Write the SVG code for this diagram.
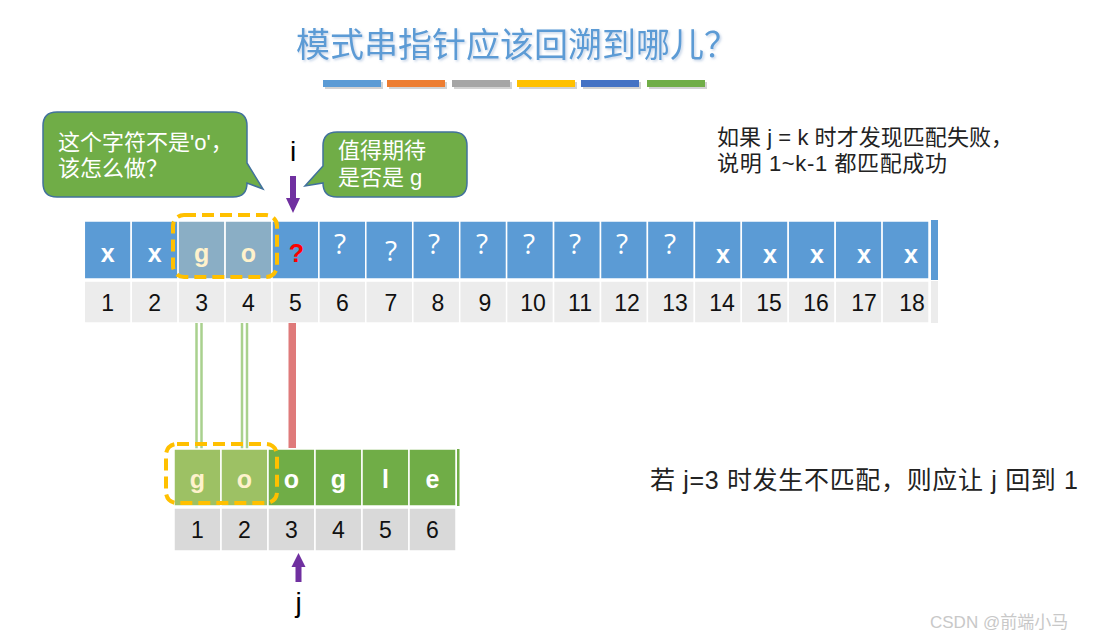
<svg xmlns="http://www.w3.org/2000/svg" width="1094" height="638" viewBox="0 0 1094 638">
<defs>
<filter id="sh" x="-5%" y="-20%" width="110%" height="150%">
<feDropShadow dx="1.5" dy="1.5" stdDeviation="0.8" flood-color="#9FB8D8" flood-opacity="0.6"/>
</filter>
</defs>
<style>
.cn{font-family:"Noto Sans CJK SC","Liberation Sans",sans-serif}
.mx{font-family:"Liberation Sans","Noto Sans CJK SC",sans-serif}
.blue{fill:#5B9BD5;stroke:#fff;stroke-width:1.5}
.hl{fill:#8AAEC5;stroke:#fff;stroke-width:1.5}
.g1{fill:#ECECEC;stroke:#fff;stroke-width:1.5}
.g2{fill:#D9D9D9;stroke:#fff;stroke-width:1.5}
.grn{fill:#70AD47;stroke:#fff;stroke-width:1.5}
.lgr{fill:#9DC164;stroke:#fff;stroke-width:1.5}
.lt{font-family:"Liberation Sans",sans-serif;font-weight:bold;font-size:25px;text-anchor:middle;fill:#fff}
.cream{fill:#FFF2CC}
.num{font-family:"Liberation Sans",sans-serif;font-size:23px;text-anchor:middle;fill:#111}
.q{font-family:"Open Sans","Liberation Sans",sans-serif;font-size:28px;text-anchor:middle;fill:#fff}
.dash{fill:none;stroke:#FFC000;stroke-width:4;stroke-dasharray:12 6}
.call{fill:#70AD47;stroke:#41719C;stroke-width:1.5}
.ct{font-size:22px;fill:#fff}
.purple{fill:#7030A0}
.gl{stroke:#A9D18E;stroke-width:2.5}
</style>

<g id="title">
<text x="296" y="57" class="cn" font-size="34" fill="#5B9BD5" filter="url(#sh)">模式串指针应该回溯到哪儿<tspan x="704">？</tspan></text>
</g>

<g id="colorbars">
<g fill="#BFBFBF" opacity="0.7">
<rect x="325" y="82" width="58" height="7"/><rect x="389" y="82" width="58" height="7"/><rect x="454" y="82" width="58" height="7"/><rect x="519" y="82" width="58" height="7"/><rect x="583" y="82" width="58" height="7"/><rect x="649" y="82" width="58" height="7"/>
</g>
<rect x="323" y="80" width="58" height="7" fill="#5B9BD5"/>
<rect x="387" y="80" width="58" height="7" fill="#ED7D31"/>
<rect x="452" y="80" width="58" height="7" fill="#A5A5A5"/>
<rect x="517" y="80" width="58" height="7" fill="#FFC000"/>
<rect x="581" y="80" width="58" height="7" fill="#4472C4"/>
<rect x="647" y="80" width="58" height="7" fill="#70AD47"/>
</g>

<g id="callout-left">
<path class="call" d="M57,112 H233 Q247,112 247,126 V163 L263,189 L247,183 Q247,197 233,197 H57 Q43,197 43,183 V126 Q43,112 57,112 Z"/>
<text x="58" y="150" class="mx ct">这个字符不是'o'，</text>
<text x="58" y="176" class="mx ct">该怎么做？</text>
</g>

<g id="callout-right">
<path class="call" d="M337,132 H453 Q467,132 467,146 V183 Q467,197 453,197 H337 Q323,197 323,183 L305,186 L323,166 V146 Q323,132 337,132 Z"/>
<text x="338" y="158" class="mx ct">值得期待</text>
<text x="338" y="185" class="mx ct">是否是 g</text>
</g>

<g id="pointer-i">
<text x="293" y="161" font-family="Liberation Sans,sans-serif" font-size="28" text-anchor="middle" fill="#000">i</text>
<rect x="290" y="176" width="6" height="23" class="purple"/>
<polygon points="286,198 300,198 293,213" class="purple"/>
</g>

<g id="note-top" class="mx" font-size="22" fill="#222">
<text x="717" y="145" textLength="296" lengthAdjust="spacing">如果 j = k 时才发现匹配失败，</text>
<text x="717" y="171" textLength="230" lengthAdjust="spacing">说明 1~k-1 都匹配成功</text>
</g>

<g id="main-string">
<rect class="blue" x="84.3" y="221" width="46.9" height="58"/>
<rect class="blue" x="131.2" y="221" width="46.9" height="58"/>
<rect class="hl" x="178.1" y="221" width="46.9" height="58"/>
<rect class="hl" x="225.1" y="221" width="46.9" height="58"/>
<rect class="blue" x="272" y="221" width="46.9" height="58"/>
<rect class="blue" x="318.9" y="221" width="46.9" height="58"/>
<rect class="blue" x="365.8" y="221" width="46.9" height="58"/>
<rect class="blue" x="412.8" y="221" width="46.9" height="58"/>
<rect class="blue" x="459.7" y="221" width="46.9" height="58"/>
<rect class="blue" x="506.6" y="221" width="46.9" height="58"/>
<rect class="blue" x="553.6" y="221" width="46.9" height="58"/>
<rect class="blue" x="600.5" y="221" width="46.9" height="58"/>
<rect class="blue" x="647.4" y="221" width="46.9" height="58"/>
<rect class="blue" x="694.4" y="221" width="46.9" height="58"/>
<rect class="blue" x="741.3" y="221" width="46.9" height="58"/>
<rect class="blue" x="788.2" y="221" width="46.9" height="58"/>
<rect class="blue" x="835.2" y="221" width="46.9" height="58"/>
<rect class="blue" x="882.1" y="221" width="46.9" height="58"/>
<rect x="931" y="220" width="7" height="60" fill="#5B9BD5"/>

<rect class="g1" x="84.3" y="281" width="46.9" height="42"/>
<rect class="g1" x="131.2" y="281" width="46.9" height="42"/>
<rect class="g1" x="178.1" y="281" width="46.9" height="42"/>
<rect class="g1" x="225.1" y="281" width="46.9" height="42"/>
<rect class="g1" x="272" y="281" width="46.9" height="42"/>
<rect class="g1" x="318.9" y="281" width="46.9" height="42"/>
<rect class="g1" x="365.8" y="281" width="46.9" height="42"/>
<rect class="g1" x="412.8" y="281" width="46.9" height="42"/>
<rect class="g1" x="459.7" y="281" width="46.9" height="42"/>
<rect class="g1" x="506.6" y="281" width="46.9" height="42"/>
<rect class="g1" x="553.6" y="281" width="46.9" height="42"/>
<rect class="g1" x="600.5" y="281" width="46.9" height="42"/>
<rect class="g1" x="647.4" y="281" width="46.9" height="42"/>
<rect class="g1" x="694.4" y="281" width="46.9" height="42"/>
<rect class="g1" x="741.3" y="281" width="46.9" height="42"/>
<rect class="g1" x="788.2" y="281" width="46.9" height="42"/>
<rect class="g1" x="835.2" y="281" width="46.9" height="42"/>
<rect class="g1" x="882.1" y="281" width="46.9" height="42"/>
<rect x="931" y="281" width="7" height="42" fill="#ECECEC"/>

<text class="lt" x="107.7" y="262">x</text>
<text class="lt" x="154.7" y="262">x</text>
<text class="lt cream" x="201.6" y="262">g</text>
<text class="lt cream" x="248.5" y="262">o</text>
<text x="296.5" y="262" font-family="Liberation Sans,sans-serif" font-weight="bold" font-size="25" text-anchor="middle" fill="#FF0000">?</text>
<text class="q" x="340" y="254">?</text>
<text class="q" x="391" y="261">?</text>
<text class="q" x="434" y="254">?</text>
<text class="q" x="482" y="254">?</text>
<text class="q" x="529" y="254">?</text>
<text class="q" x="575" y="254">?</text>
<text class="q" x="622" y="254">?</text>
<text class="q" x="670" y="254">?</text>
<text class="lt" x="723" y="263">x</text>
<text class="lt" x="770" y="263">x</text>
<text class="lt" x="817" y="263">x</text>
<text class="lt" x="864" y="263">x</text>
<text class="lt" x="911" y="263">x</text>

<text class="num" x="107.7" y="311">1</text>
<text class="num" x="154.7" y="311">2</text>
<text class="num" x="201.6" y="311">3</text>
<text class="num" x="248.5" y="311">4</text>
<text class="num" x="295.5" y="311">5</text>
<text class="num" x="342.4" y="311">6</text>
<text class="num" x="391" y="311">7</text>
<text class="num" x="438" y="311">8</text>
<text class="num" x="485" y="311">9</text>
<text class="num" x="533" y="311">10</text>
<text class="num" x="580" y="311">11</text>
<text class="num" x="627" y="311">12</text>
<text class="num" x="675" y="311">13</text>
<text class="num" x="722" y="311">14</text>
<text class="num" x="769" y="311">15</text>
<text class="num" x="816" y="311">16</text>
<text class="num" x="864" y="311">17</text>
<text class="num" x="912" y="311">18</text>

<rect class="dash" x="173" y="215" width="104" height="62" rx="11"/>
</g>

<g id="connectors">
<line class="gl" x1="196.5" y1="323" x2="196.5" y2="449"/>
<line class="gl" x1="201.5" y1="323" x2="201.5" y2="449"/>
<line class="gl" x1="242" y1="323" x2="242" y2="449"/>
<line class="gl" x1="247" y1="323" x2="247" y2="449"/>
<rect x="288.5" y="323" width="7.5" height="125" fill="#DF7A7A"/>
</g>

<g id="pattern-string">
<rect class="lgr" x="174" y="449" width="47" height="57"/>
<rect class="lgr" x="221" y="449" width="47" height="57"/>
<rect class="grn" x="268" y="449" width="47" height="57"/>
<rect class="grn" x="315" y="449" width="47" height="57"/>
<rect class="grn" x="362" y="449" width="47" height="57"/>
<rect class="grn" x="409" y="449" width="47" height="57"/>
<rect x="457" y="449" width="2.5" height="57" fill="#70AD47"/>

<rect class="g2" x="174" y="508" width="47" height="43"/>
<rect class="g2" x="221" y="508" width="47" height="43"/>
<rect class="g2" x="268" y="508" width="47" height="43"/>
<rect class="g2" x="315" y="508" width="47" height="43"/>
<rect class="g2" x="362" y="508" width="47" height="43"/>
<rect class="g2" x="409" y="508" width="47" height="43"/>

<text class="lt cream" x="197.5" y="488">g</text>
<text class="lt cream" x="244.5" y="488">o</text>
<text class="lt" x="291.5" y="488">o</text>
<text class="lt" x="338.5" y="488">g</text>
<text class="lt" x="385.5" y="488">l</text>
<text class="lt" x="432.5" y="488">e</text>

<text class="num" x="197.5" y="538">1</text>
<text class="num" x="244.5" y="538">2</text>
<text class="num" x="291.5" y="538">3</text>
<text class="num" x="338.5" y="538">4</text>
<text class="num" x="385.5" y="538">5</text>
<text class="num" x="432.5" y="538">6</text>

<rect class="dash" x="166" y="444" width="111" height="59" rx="11"/>
</g>

<g id="pointer-j">
<polygon points="291.5,567 305.5,567 298.5,553" class="purple"/>
<rect x="295.5" y="566" width="6" height="16" class="purple"/>
<text x="298.5" y="612" font-family="Liberation Sans,sans-serif" font-size="28" text-anchor="middle" fill="#000">j</text>
</g>

<g id="note-bottom">
<text x="650" y="489" class="mx" font-size="25" fill="#222" textLength="428" lengthAdjust="spacing">若 j=3 时发生不匹配，则应让 j 回到 1</text>
</g>

<g id="watermark">
<text x="930" y="628" class="mx" font-size="17" fill="#C8C8C8">CSDN @前端小马</text>
</g>
</svg>
